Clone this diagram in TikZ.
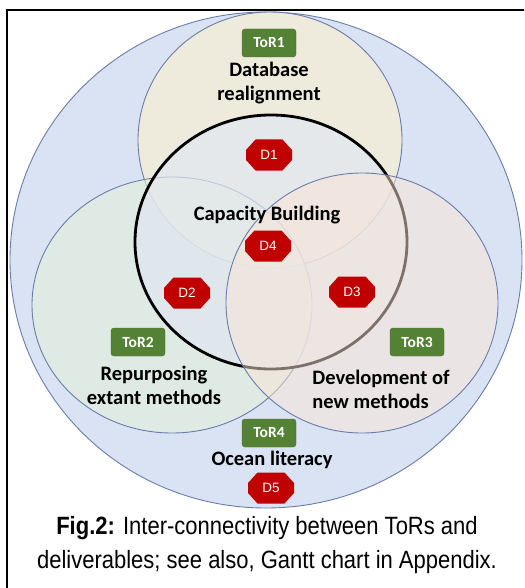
\documentclass[tikz,border=0pt]{standalone}
\usepackage{fontspec}
\setmainfont{Carlito}
\newfontfamily\arialfont{Liberation Sans}
\newfontfamily\capfont[FakeStretch=0.88]{Liberation Sans}
\definecolor{outerblue}{RGB}{218,227,243}
\definecolor{innerblue}{RGB}{226,231,240}
\definecolor{ringline}{RGB}{105,125,170}
\definecolor{torgreen}{RGB}{84,130,53}
\definecolor{dred}{RGB}{192,0,0}
\definecolor{lgold}{RGB}{255,242,204}
\definecolor{lgreen}{RGB}{226,240,217}
\definecolor{lorange}{RGB}{251,229,214}
\begin{document}
\begin{tikzpicture}[x=1pt,y=-1pt,
  ring/.style={draw=ringline,line width=0.9pt},
  tor/.style={draw=torgreen!85!black,fill=torgreen,rounded corners=3pt,minimum width=54pt,minimum height=28pt,inner sep=0pt,text=white,font=\fontsize{15.5}{17}\selectfont\bfseries},
  octa/.pic={\fill[dred] (-23,-5)--(-23,5)--(-13.5,15.5)--(13.5,15.5)--(23,5)--(23,-5)--(13.5,-15.5)--(-13.5,-15.5)--cycle;},
  dlv/.style={inner sep=0pt,text=white,font=\arialfont\fontsize{13.5}{15}\selectfont},
  lbl/.style={font=\fontsize{20.5}{24}\selectfont\bfseries,align=center}]
\clip (0,0) rectangle (524,588);
\fill[white] (0,0) rectangle (524,588);
% frame
\draw[line width=1.6pt] (7,10) rectangle (560,620);
% Venn rings
\draw[ring,fill=outerblue] (266,260) ellipse [x radius=256,y radius=248];
\draw[ring,fill=lgold,fill opacity=0.55] (270,140) ellipse [x radius=132,y radius=128];
\draw[ring,fill=lgreen,fill opacity=0.6] (172,305) ellipse [x radius=140,y radius=128];
\draw[line width=2.8pt,fill=innerblue,fill opacity=0.7] (271,242) ellipse [x radius=136,y radius=127];
\draw[ring,fill=lorange,fill opacity=0.5] (362,303) ellipse [x radius=136,y radius=130];
% ToR1
\node[tor] (tor1) at (269,43) {ToR1};
\node[lbl] (db) at (269,83) {Database\\realignment};
% Capacity building
\node[lbl] (cb) at (267,215) {Capacity Building};
\foreach \nm/\px/\py in {1/269/155,4/268/246,2/187/293,3/352/292,5/271/488}{
  \pic at (\px,\py) {octa};
  \node[dlv] (d\nm) at (\px,\py) {D\nm};
}
% ToR2, ToR3
\node[tor] (tor2) at (138,342) {ToR2};
\node[lbl] (rep) at (154,385) {Repurposing\\extant methods};
\node[tor] (tor3) at (417,342) {ToR3};
\node[lbl,align=left] (dev) at (381,389) {Development of\\new methods};
% ToR4
\node[tor] (tor4) at (269,433) {ToR4};
\node[lbl] (ocean) at (272,460) {Ocean literacy};
% caption
\node[font=\capfont\fontsize{25}{34}\selectfont,align=center] (fig) at (267,545) {\textbf{Fig.2:} Inter-connectivity between ToRs and\\deliverables; see also, Gantt chart in Appendix.};
\end{tikzpicture}
\end{document}
